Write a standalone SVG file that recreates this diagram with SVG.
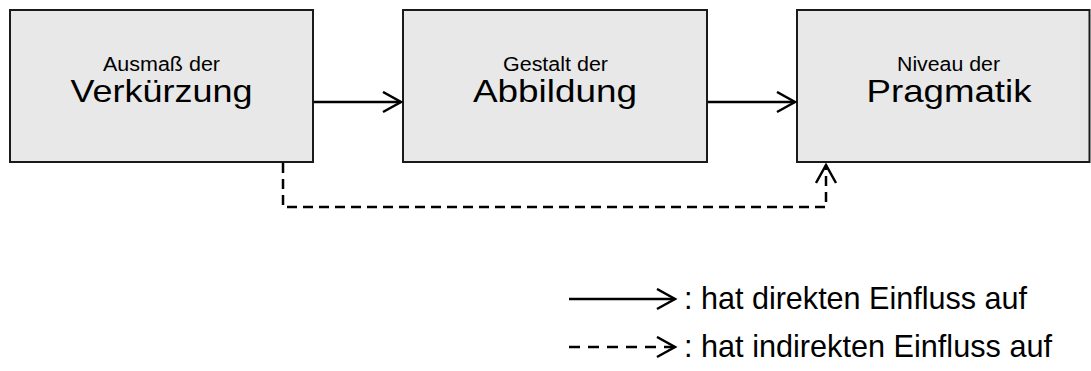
<svg xmlns="http://www.w3.org/2000/svg" width="1091" height="371" viewBox="0 0 1091 371">
<style>
.box{fill:#e8e8e8;stroke:#1a1a1a;stroke-width:2}
.t{font-family:"Liberation Sans",Arial,sans-serif;fill:#000;text-anchor:middle}
.s{font-size:20px}
.l{font-size:32px}
.c{fill:none;stroke:#000;stroke-width:2.5}
.d{stroke-dasharray:10,6}
.dl{stroke-dasharray:11,8}
.lg{font-family:"Liberation Sans",Arial,sans-serif;font-size:30.5px;fill:#000}
</style>
<defs>
<marker id="ah" markerUnits="userSpaceOnUse" markerWidth="24" markerHeight="26" refX="19" refY="11" orient="auto">
<path d="M1,1 L19,11 L1,21" fill="none" stroke="#000" stroke-width="2.5"/>
</marker>
</defs>
<g id="n1">
<rect class="box" x="10" y="10" width="303" height="152"/>
<text class="t s" x="161.5" y="71" textLength="117" lengthAdjust="spacingAndGlyphs">Ausmaß der</text>
<text class="t l" x="161.5" y="102" textLength="182" lengthAdjust="spacingAndGlyphs">Verkürzung</text>
</g>
<g id="n2">
<rect class="box" x="403" y="10" width="304" height="152"/>
<text class="t s" x="555.5" y="71" textLength="105" lengthAdjust="spacingAndGlyphs">Gestalt der</text>
<text class="t l" x="555" y="102" textLength="164" lengthAdjust="spacingAndGlyphs">Abbildung</text>
</g>
<g id="n3">
<rect class="box" x="797" y="10" width="292.5" height="152"/>
<text class="t s" x="948.5" y="71" textLength="103" lengthAdjust="spacingAndGlyphs">Niveau der</text>
<text class="t l" x="949" y="102" textLength="165" lengthAdjust="spacingAndGlyphs">Pragmatik</text>
</g>
<g id="connectors">
<line class="c" x1="314" y1="102" x2="401" y2="102" marker-end="url(#ah)"/>
<line class="c" x1="708" y1="102" x2="795" y2="102" marker-end="url(#ah)"/>
<path class="c d" d="M283,163 V207 H826 V165" marker-end="url(#ah)"/>
</g>
<g id="legend">
<line class="c" x1="569" y1="299" x2="675" y2="299" marker-end="url(#ah)"/>
<text class="lg" x="684" y="309" textLength="343" lengthAdjust="spacingAndGlyphs">: hat direkten Einfluss auf</text>
<line class="c dl" x1="569" y1="347" x2="675" y2="347" marker-end="url(#ah)"/>
<text class="lg" x="684" y="357" textLength="368" lengthAdjust="spacingAndGlyphs">: hat indirekten Einfluss auf</text>
</g>
</svg>
